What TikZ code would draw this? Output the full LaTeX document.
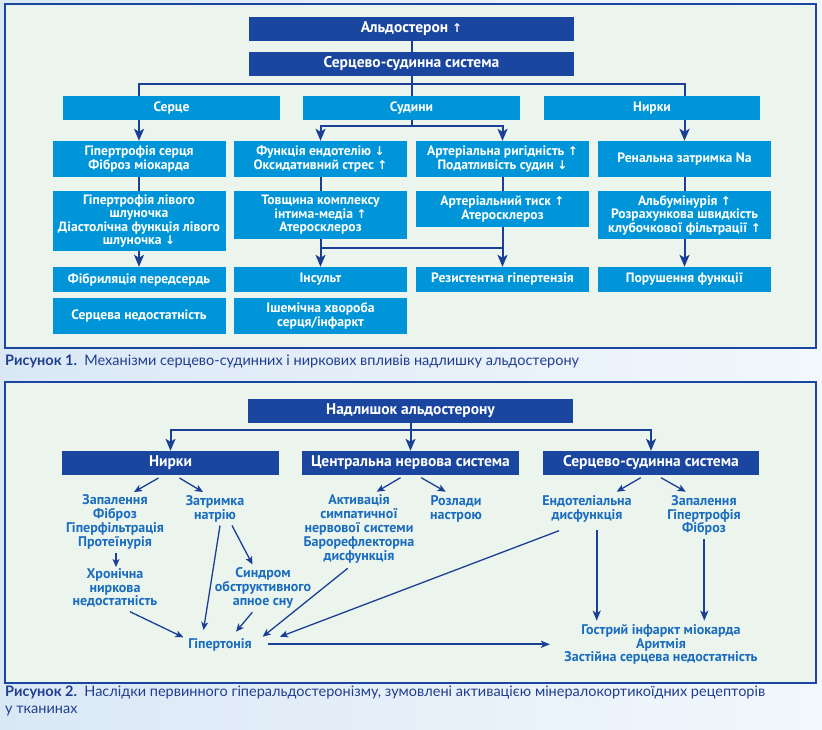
\documentclass[tikz,border=0pt]{standalone}
\usepackage{fontspec}
\setmainfont{PT Sans}
\newfontfamily\capfont{Lato}
\newfontfamily\arrfont{DejaVu Sans}
\usetikzlibrary{arrows.meta,calc}
\definecolor{dblue}{HTML}{1A469F}
\definecolor{lblue}{HTML}{0095D9}
\definecolor{tblue}{HTML}{1A6CC0}
\definecolor{panelc}{HTML}{EBF5EE}
\definecolor{capc}{HTML}{203E8E}
\definecolor{lcol}{HTML}{1B3F95}
\newcommand{\myup}{{\arrfont\fontsize{12}{12}\selectfont ↑}}
\newcommand{\mydown}{{\arrfont\fontsize{12}{12}\selectfont ↓}}
\tikzset{
  dbox/.style={fill=dblue, text=white, font=\bfseries\fontsize{15.5}{17}\selectfont, inner sep=0pt, align=center},
  lbox/.style={fill=lblue, text=white, font=\bfseries\fontsize{13.6}{13.5}\selectfont, inner sep=0pt, align=center},
  ttxt/.style={text=tblue, font=\bfseries\fontsize{14}{13.8}\selectfont, align=center, inner sep=0pt},
  conn/.style={draw=lcol, line width=2pt},
  arr/.style={conn, -{Stealth[length=12pt,width=10pt,inset=3pt]}},
  marr/.style={conn, -{Stealth[length=10pt,width=8pt,inset=2.5pt]}},
  sarr/.style={draw=lcol, line width=1.3pt, -{Stealth[length=8pt,width=7pt,inset=2pt]}},
  panel/.style={draw=dblue, line width=2.2pt, fill=panelc},
  w1/.style={minimum width=173pt},
}
\begin{document}
\begin{tikzpicture}[x=1pt,y=-1pt]
\shade[left color={rgb,255:red,218;green,232;blue,246}, right color={rgb,255:red,242;green,247;blue,252}] (0,0) rectangle (822,729);
\useasboundingbox (0,0) rectangle (822,729);
\draw[panel] (5,4) rectangle (816,348);
\draw[panel] (5,382) rectangle (816,683);

% ---------- Figure 1 ----------
\node[dbox, minimum width=325pt, minimum height=24pt] (ald) at (411.5,29) {Альдостерон \myup};
\node[dbox, minimum width=325pt, minimum height=24pt] (ccs) at (411.5,64) {Серцево-судинна система};
\node[lbox, minimum width=217pt, minimum height=24pt] (heart) at (171.5,108) {Серце};
\node[lbox, minimum width=217pt, minimum height=24pt] (vess) at (411.5,108) {Судини};
\node[lbox, minimum width=216pt, minimum height=24pt] (kid) at (652,108) {Нирки};

\node[lbox, w1, minimum height=36pt] (a1) at (139,159) {Гіпертрофія серця\\Фіброз міокарда};
\node[lbox, w1, minimum height=36pt] (a2) at (320.5,159) {Функція ендотелію \mydown\\Оксидативний стрес \myup};
\node[lbox, w1, minimum height=36pt] (a3) at (502.5,159) {Артеріальна ригідність \myup\\Податливість судин \mydown};
\node[lbox, w1, minimum height=36pt] (a4) at (684.5,159) {Ренальна затримка Na};

\node[lbox, w1, minimum height=60pt] (b1) at (139,221) {Гіпертрофія лівого\\шлуночка\\Діастолічна функція лівого\\шлуночка \mydown};
\node[lbox, w1, minimum height=48pt] (b2) at (320.5,215) {Товщина комплексу\\інтима-медіа \myup\\Атеросклероз};
\node[lbox, w1, minimum height=36pt] (b3) at (502.5,209) {Артеріальний тиск \myup\\Атеросклероз};
\node[lbox, w1, minimum height=48pt] (b4) at (684.5,215) {Альбумінурія \myup\\Розрахункова швидкість\\клубочкової фільтрації \myup};

\node[lbox, w1, minimum height=25pt] (c1) at (139,279.5) {Фібриляція передсердь};
\node[lbox, w1, minimum height=25pt] (c2) at (320.5,279.5) {Інсульт};
\node[lbox, w1, minimum height=25pt] (c3) at (502.5,279.5) {Резистентна гіпертензія};
\node[lbox, w1, minimum height=25pt] (c4) at (684.5,279.5) {Порушення функції};

\node[lbox, w1, minimum height=36pt] (d1) at (139,316) {Серцева недостатність};
\node[lbox, w1, minimum height=36pt] (d2) at (320.5,316) {Ішемічна хвороба\\серця/інфаркт};

\draw[conn] (ald) -- (ccs);
\draw[conn] (ccs.south) -- (vess.north);
\draw[conn] (a1.north |- heart.north) -- ++(0,-12) -| (a4.north |- kid.north);
\draw[arr] (a1.north |- heart.south) -- (a1.north);
\draw[arr] (a4.north |- kid.south) -- (a4.north);
\draw[arr] (vess.south) -- ++(0,6) -| (a2.north);
\draw[arr] ($(vess.south)+(0,6)$) -| (a3.north);
\draw[conn] (a1.south) -- (b1.north);
\draw[arr] (b1.south) -- (c1.north);
\draw[conn] (a2.south) -- (b2.north);
\draw[arr] (b2.south) -- (c2.north);
\draw[conn] (a3.south) -- (b3.north);
\draw[arr] (b3.south) -- (c3.north);
\draw[conn] ($(c2.north)+(0,-19)$) -- ($(c3.north)+(0,-19)$);
\draw[conn] (a4.south) -- (b4.north);
\draw[arr] (b4.south) -- (c4.north);

\node[anchor=west, inner sep=0pt, text=capc, font=\capfont\fontsize{14.5}{17}\selectfont] (cap1) at (5,361) {\textbf{Рисунок 1.}\ \ Механізми серцево-судинних і ниркових впливів надлишку альдостерону};

% ---------- Figure 2 ----------
\node[dbox, minimum width=325pt, minimum height=24pt] (exc) at (410.5,411) {Надлишок альдостерону};
\node[dbox, minimum width=217pt, minimum height=24pt] (nk) at (170.5,463) {Нирки};
\node[dbox, minimum width=217pt, minimum height=24pt] (cns) at (410.5,463) {Центральна нервова система};
\node[dbox, minimum width=216pt, minimum height=24pt] (cvs) at (651,463) {Серцево-судинна система};

\draw[arr] (exc.south) -- (cns.north);
\draw[arr] ($(exc.south)+(0,7)$) -| (nk.north);
\draw[arr] ($(exc.south)+(0,7)$) -| (cvs.north);

\node[ttxt] (t1) at (115,522) {Запалення\\Фіброз\\Гіперфільтрація\\Протеїнурія};
\node[ttxt] (t2) at (215,509) {Затримка\\натрію};
\node[ttxt] (t3) at (115,588) {Хронічна\\ниркова\\недостатність};
\node[ttxt] (t4) at (263,588) {Синдром\\обструктивного\\апное сну};
\node[ttxt] (t5) at (220,645) {Гіпертонія};
\node[ttxt] (t6) at (359,529) {Активація\\симпатичної\\нервової системи\\Барорефлекторна\\дисфункція};
\node[ttxt] (t7) at (456,509) {Розлади\\настрою};
\node[ttxt] (t8) at (587,509) {Ендотеліальна\\дисфункція};
\node[ttxt] (t9) at (704,515.5) {Запалення\\Гіпертрофія\\Фіброз};
\node[ttxt] (t10) at (661,644.5) {Гострий інфаркт міокарда\\Аритмія\\Застійна серцева недостатність};

\draw[sarr] ($(nk)+(-12,15)$) -- ($(t1)+(19,-30)$);
\draw[sarr] ($(nk)+(9,15)$) -- ($(t2)+(-12,-17)$);
\draw[sarr] ($(t1)+(1,31)$) -- ($(t3)+(1,-21)$);
\draw[sarr] ($(t2)+(17,16.5)$) -- ($(t4)+(-10.5,-23.5)$);
\draw[sarr] ($(t2)+(5,16.5)$) -- ($(t5)+(-16.5,-15)$);
\draw[sarr] ($(t3)+(15,23.7)$) -- ($(t5)+(-36.7,-7.7)$);
\draw[sarr] ($(t4)+(-10.7,24.3)$) -- ($(t5)+(16,-13.3)$);
\draw[sarr] ($(t6)+(-11.3,39.3)$) -- ($(t5)+(42.7,-8.3)$);
\draw[sarr] ($(t8)+(-28,21.7)$) -- ($(t5)+(60,-8.3)$);
\draw[conn, -{Stealth[length=9pt,width=7pt,inset=2pt]}] ($(t5)+(48.3,-0.7)$) -- ($(t10)+(-111,-0.2)$);
\draw[sarr] ($(cns)+(-10,14.7)$) -- ($(t6)+(17.7,-37.3)$);
\draw[sarr] ($(cns)+(10.7,14.7)$) -- ($(t7)+(-10.3,-17.3)$);
\draw[sarr] ($(cvs)+(-10.3,14.7)$) -- ($(t8)+(29.7,-17.3)$);
\draw[sarr] ($(cvs)+(10,14.7)$) -- ($(t9)+(-18.3,-23.8)$);
\draw[marr] ($(t8)+(9.7,21)$) -- ($(t10)+(-64.3,-23.8)$);
\draw[marr] ($(t9)+(0.3,23.8)$) -- ($(t10)+(43.3,-23.8)$);

\node[anchor=north west, inner sep=0pt, align=left, text=capc, font=\capfont\fontsize{14.5}{17}\selectfont] (cap2) at (5,686) {\textbf{Рисунок 2.}\ \ Наслідки первинного гіперальдостеронізму, зумовлені активацією мінералокортикоїдних рецепторів\\у тканинах};
\end{tikzpicture}
\end{document}
